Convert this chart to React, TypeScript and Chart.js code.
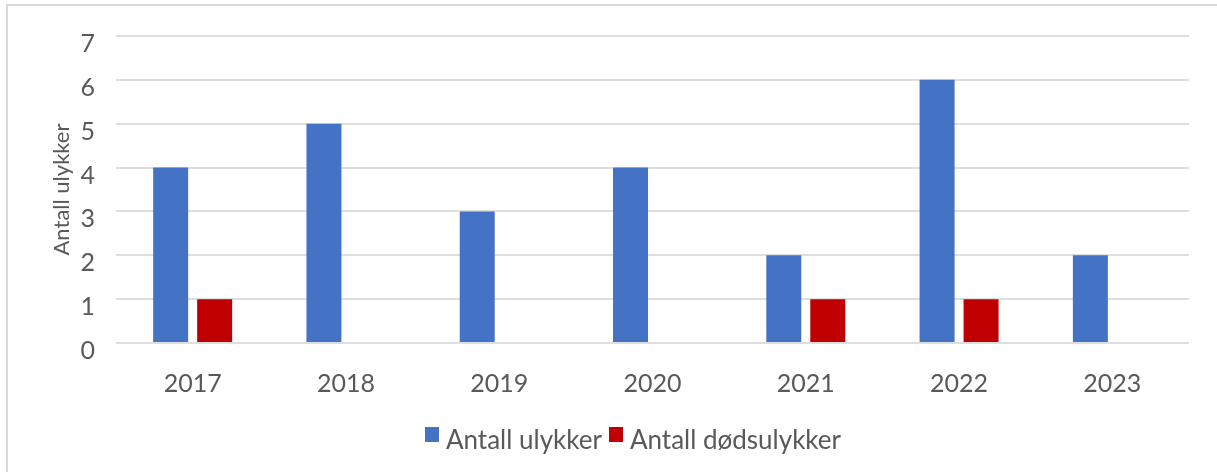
import React, { useEffect, useRef } from "react";
import { Chart, registerables } from "chart.js";

Chart.register(...registerables);

const categories = ["2017", "2018", "2019", "2020", "2021", "2022", "2023"];
const accidents = [4, 5, 3, 4, 2, 6, 2];
const fatalAccidents = [1, 0, 0, 0, 1, 1, 0];
const seriesLabels = ["Antall ulykker", "Antall dødsulykker"];
const seriesColors = ["#4472C4", "#C00000"];
const yTicks = [0, 1, 2, 3, 4, 5, 6, 7];
const yTitle = "Antall ulykker";

const FONT = "Lato, 'Open Sans', sans-serif";
const TEXT = "#595959";
const GRID = "#dedede";

function makeLegendBox(color: string): HTMLCanvasElement {
  const c = document.createElement("canvas");
  c.width = 14;
  c.height = 28;
  const ctx = c.getContext("2d")!;
  ctx.fillStyle = color;
  ctx.fillRect(0, 0, 14, 15);
  return c;
}

export default function App() {
  const ref = useRef<HTMLCanvasElement | null>(null);

  useEffect(() => {
    if (!ref.current) return;
    const boxes = seriesColors.map(makeLegendBox);
    const chart = new Chart(ref.current, {
      type: "bar",
      data: {
        labels: categories,
        datasets: [
          {
            label: seriesLabels[0],
            data: accidents,
            backgroundColor: seriesColors[0],
            borderWidth: 0,
            barPercentage: 0.795,
            categoryPercentage: 0.574,
          },
          {
            label: seriesLabels[1],
            data: fatalAccidents,
            backgroundColor: seriesColors[1],
            borderWidth: 0,
            barPercentage: 0.795,
            categoryPercentage: 0.574,
          },
        ],
      },
      options: {
        responsive: false,
        animation: false,
        devicePixelRatio: 1,
        layout: { padding: { left: 0, right: 0, top: 36, bottom: 8 } },
        plugins: {
          tooltip: { enabled: false },
          legend: {
            position: "bottom",
            labels: {
              usePointStyle: true,
              pointStyleWidth: 2,
              padding: 13,
              color: TEXT,
              font: { family: FONT, size: 26 },
              generateLabels: (ch: any) =>
                ch.data.datasets.map((ds: any, i: number) => ({
                  text: ds.label,
                  fillStyle: ds.backgroundColor,
                  strokeStyle: ds.backgroundColor,
                  lineWidth: 0,
                  pointStyle: boxes[i],
                  hidden: false,
                  datasetIndex: i,
                  fontColor: TEXT,
                })),
            },
          },
        },
        scales: {
          x: {
            grid: { display: false, drawTicks: false },
            border: { display: false },
            ticks: {
              color: TEXT,
              font: { family: FONT, size: 25 },
              padding: 26,
              maxRotation: 0,
            },
            afterFit: (s: any) => {
              s.height = 72;
            },
          },
          y: {
            min: 0,
            max: 7,
            afterBuildTicks: (s: any) => {
              s.ticks = yTicks.map((v) => ({ value: v }));
            },
            grid: { color: GRID, lineWidth: 2, drawTicks: false },
            border: { display: false },
            ticks: {
              color: TEXT,
              font: { family: FONT, size: 25 },
              padding: 21,
              labelOffset: 8,
            },
            title: {
              display: true,
              text: yTitle,
              color: TEXT,
              font: { family: FONT, size: 22 },
              padding: { top: 49, bottom: 0 },
            },
            afterFit: (s: any) => {
              s.width = 116;
            },
          },
          yr: {
            position: "right",
            display: true,
            grid: { display: false, drawTicks: false },
            border: { display: false },
            ticks: { display: false },
            afterFit: (s: any) => {
              s.width = 83;
            },
          },
        },
      } as any,
    });
    return () => chart.destroy();
  }, []);

  return (
    <div
      style={{
        position: "absolute",
        left: 0,
        top: 0,
        width: 1217,
        height: 472,
        overflow: "hidden",
        background: "#fff",
      }}
    >
      <div
        style={{
          position: "absolute",
          left: 6,
          top: 4,
          width: 1300,
          height: 600,
          border: "2px solid #d9d9d9",
          boxSizing: "border-box",
        }}
      />
      <canvas
        ref={ref}
        width={1272}
        height={472}
        style={{ position: "absolute", left: 0, top: 0 }}
      />
    </div>
  );
}
